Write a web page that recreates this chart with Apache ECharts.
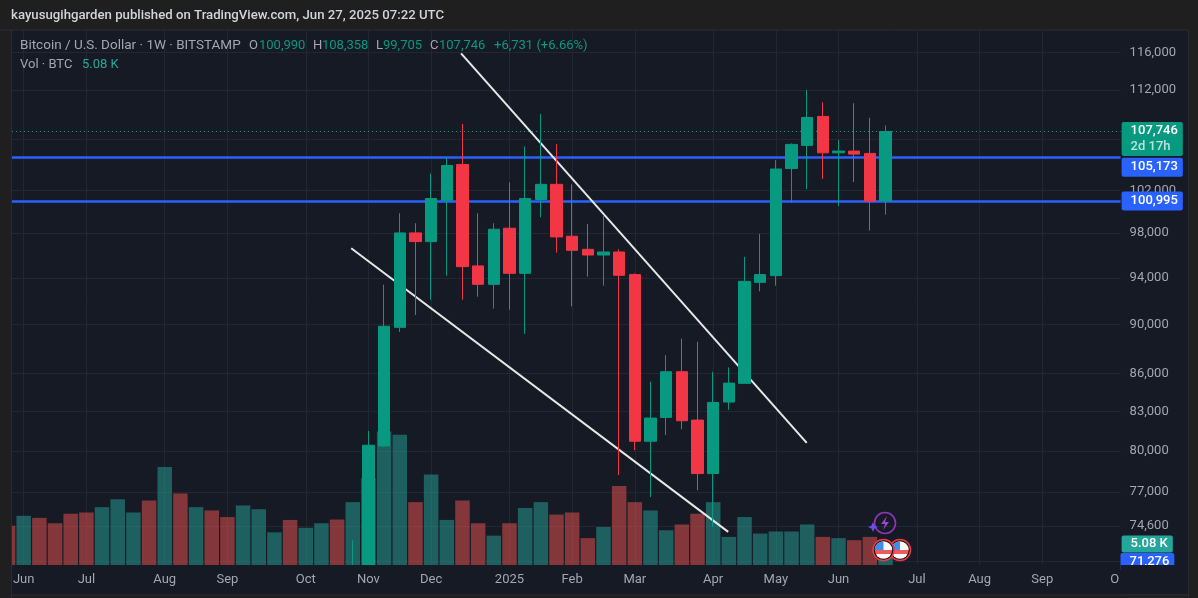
<!DOCTYPE html>
<html>
<head>
    <meta charset="utf-8">
    <script src="https://cdn.jsdelivr.net/npm/echarts@6/dist/echarts.min.js"></script>
    <style>
        html, body { margin: 0; padding: 0; background: #1f1f1f; }
        #main { width: 1198px; height: 598px; }
    </style>
</head>
<body>
<div id="main"></div>

<script type="text/javascript">
    // weekly candles, x is the week number counted from the first "Jun" tick
    var candleWeeks = [21, 22, 23, 24, 25, 26, 27, 28, 29, 30, 31, 32, 33, 34, 35, 36, 37, 38,
        39, 40, 41, 42, 43, 44, 45, 46, 47, 48, 49, 50, 51, 52, 53, 54, 55];
    var opens = [68200, 69300, 80370, 89770, 98030, 97236, 101060, 104486, 95060, 93440, 98458, 94405, 101130, 102570, 97726, 96540, 96030, 96300,
        94290, 80728, 82535, 86130, 82335, 78330, 83730, 85200, 93615, 94200, 104090, 106360, 109270, 105625, 105800, 105570, 100990];
    var closes = [68700, 80425, 89860, 98030, 97236, 101220, 104390, 94994, 93440, 98366, 94405, 101220, 102570, 97663, 96450, 96030, 96300, 94230,
        80728, 82490, 86130, 82284, 78330, 83700, 85220, 93700, 94290, 104045, 106460, 109170, 105625, 105800, 105500, 100970, 107746];
    var lows = [66800, 66800, 80270, 89380, 90806, 92110, 94200, 92110, 92370, 91344, 91260, 89215, 99472, 96244, 91546, 94115, 93320, 78224,
        80050, 76640, 81200, 81630, 77120, 74530, 83130, 85170, 92830, 93320, 100810, 102120, 103080, 100500, 102790, 98240, 99705];
    var highs = [73600, 81500, 93413, 99840, 98915, 103595, 105135, 108520, 99840, 98915, 102764, 106262, 109534, 106483, 102570, 98850, 99580, 96540,
        94400, 85328, 87473, 88835, 88560, 86130, 86480, 95860, 97940, 104910, 106560, 112000, 110730, 106910, 110620, 109130, 108358];

    // volume in thousands of BTC, first entry is the cut-off bar at the left edge (week -1)
    var volumeFirstWeek = -1;
    var volumes = [9.5, 11.9, 11.4, 10.1, 12.4, 12.7, 14.0, 15.9, 12.7, 15.6, 23.7, 17.3, 14.0, 13.2, 11.6, 14.4, 13.5, 7.9,
        10.9, 9.0, 10.1, 11.0, 15.2, 21.0, 32.3, 31.5, 15.2, 21.9, 10.9, 15.6, 10.1, 7.1, 10.1, 13.8, 15.2, 12.2, 12.7, 6.5,
        9.2, 19.1, 15.2, 13.2, 8.4, 9.8, 12.4, 15.2, 6.8, 11.6, 7.6, 8.1, 8.1, 9.8, 6.8, 6.5, 6.0, 6.8, 5.08];
    var volumeUp = [0, 1, 0, 0, 0, 0, 1, 1, 1, 0, 1, 0, 1, 0, 0, 1, 1, 1,
        0, 1, 1, 0, 1, 1, 1, 1, 0, 1, 1, 0, 0, 1, 0, 1, 1, 0, 0, 0,
        1, 0, 0, 1, 1, 0, 0, 1, 1, 1, 1, 1, 1, 1, 0, 1, 0, 0, 1];

    var monthWeeks = [0, 4, 9, 13, 18, 22, 26, 31, 35, 39, 44, 48, 52, 57, 61, 65, 70];
    var monthLabels = ['Jun', 'Jul', 'Aug', 'Sep', 'Oct', 'Nov', 'Dec', '2025', 'Feb', 'Mar', 'Apr', 'May', 'Jun', 'Jul', 'Aug', 'Sep', '{cut|O}'];
    var gridWeeks = monthWeeks.slice(0, -1);

    var priceTicks = [116000, 112000, 102000, 98000, 94000, 90000, 86000, 83000, 80000, 77000, 74600];
    var priceGrid = [116000, 112000, 107000, 102000, 98000, 94000, 90000, 86000, 83000, 80000, 77000, 74600, 72200];

    var lastClose = 107746;
    var supportLevels = [105173, 100995];
    var upperTrend = [[27.91, 115890], [49.97, 80600]];
    var lowerTrend = [[20.9, 96640], [44.96, 74183]];
    var volumeNow = 5.08;

    var UP = '#089981', DOWN = '#f23645', BLUE = '#2962ff';
    var FONT = 'Roboto';
    var AXIS_TEXT = '#a3a6af', GRID = '#232733', PANEL = '#161a25', FRAME = '#1f1f1f', EDGE = '#2a2c30';

    var candles = [];
    for (var i = 0; i < candleWeeks.length; i++) {
        candles.push([candleWeeks[i], opens[i], closes[i], lows[i], highs[i]]);
    }
    var volumeBars = [];
    for (var j = 0; j < volumes.length; j++) {
        volumeBars.push({
            value: [volumeFirstWeek + j, volumes[j]],
            itemStyle: { color: volumeUp[j] ? 'rgba(38,166,154,0.5)' : 'rgba(239,83,80,0.5)' }
        });
    }

    function legendText(x, y, text, fill, size) {
        return {
            type: 'text', x: x, y: y, z: 20, silent: true,
            style: { text: text, fill: fill, font: (size || 13) + 'px ' + FONT, verticalAlign: 'middle' }
        };
    }

    var legendDim = '#a3a6af';
    var graphics = [
        { type: 'rect', z: -1, silent: true, shape: { x: 11.5, y: 30, width: 1177, height: 565 }, style: { fill: PANEL, stroke: EDGE, lineWidth: 1 } },
        // candles and bars overrun the pane here, so the pane edges are painted over them
        { type: 'rect', z: 4, silent: true, shape: { x: -2, y: 30, width: 13.5, height: 570 }, style: { fill: FRAME, stroke: EDGE, lineWidth: 1 } },
        { type: 'rect', z: 4, silent: true, shape: { x: 12, y: 565, width: 1108.6, height: 30 }, style: { fill: PANEL } },
        { type: 'rect', z: 4, silent: true, shape: { x: 11.5, y: 595, width: 1177, height: 5 }, style: { fill: FRAME, stroke: EDGE, lineWidth: 1 } },
        {
            type: 'text', x: 11, y: 16, z: 20, silent: true,
            style: { text: 'kayusugihgarden published on TradingView.com, Jun 27, 2025 07:22 UTC', fill: '#d1d4dc', font: '500 13.2px ' + FONT, verticalAlign: 'middle' }
        },
        legendText(20, 46, 'Bitcoin / U.S. Dollar \u00b7 1W \u00b7 BITSTAMP', legendDim, 13.5),
        legendText(249, 46, 'O', legendDim), legendText(259, 46, '100,990', UP),
        legendText(313, 46, 'H', legendDim), legendText(322, 46, '108,358', UP),
        legendText(376, 46, 'L', legendDim), legendText(383, 46, '99,705', UP),
        legendText(430, 46, 'C', legendDim), legendText(439, 46, '107,746', UP),
        legendText(494, 46, '+6,731 (+6.66%)', UP),
        legendText(20, 65, 'Vol \u00b7 BTC', legendDim),
        legendText(82, 65, '5.08 K', '#26a69a'),
        // tag of the scale's lower bound, its lower half falls off the pane
        {
            type: 'text', x: 1120.5, y: 553, z: 30, silent: true,
            style: { text: '71,276', fill: '#fff', font: '500 13px ' + FONT, backgroundColor: BLUE, padding: [2, 5, 3, 9], borderRadius: 2 }
        },
        { type: 'rect', z: 31, silent: true, shape: { x: 1120.5, y: 565, width: 66, height: 28 }, style: { fill: PANEL } }
    ];

    // event badges at the end of the candles
    function flag(cx, cy) {
        return [
            { type: 'circle', z: 40, silent: true, shape: { cx: cx, cy: cy, r: 10.5 }, style: { fill: '#131313', stroke: DOWN, lineWidth: 1.5 } },
            {
                type: 'circle', z: 40, silent: true, shape: { cx: cx, cy: cy, r: 8.7 },
                style: {
                    fill: new echarts.graphic.LinearGradient(0, 0, 0, 1, [
                        { offset: 0, color: '#f7f7f7' }, { offset: 0.5, color: '#f7f7f7' },
                        { offset: 0.5, color: '#ee5a5a' }, { offset: 0.72, color: '#ee5a5a' },
                        { offset: 0.72, color: '#f7f7f7' }, { offset: 1, color: '#f7f7f7' }
                    ])
                }
            },
            { type: 'sector', z: 40, silent: true, shape: { cx: cx, cy: cy, r: 8.7, startAngle: Math.PI, endAngle: Math.PI * 1.5 }, style: { fill: '#3f8fe8' } }
        ];
    }
    graphics = graphics.concat(flag(900, 550), flag(883.5, 550));
    graphics.push(
        { type: 'circle', z: 40, silent: true, shape: { cx: 885, cy: 523, r: 10.5 }, style: { fill: 'none', stroke: '#8e35b5', lineWidth: 1.6 } },
        { type: 'polygon', z: 40, silent: true, shape: { points: [[887, 516], [881, 524], [885, 524], [883, 530], [889, 522], [885, 522]] }, style: { fill: '#a044d0' } },
        { type: 'polygon', z: 41, silent: true, shape: { points: [[873, 522], [874.5, 525.5], [878, 527], [874.5, 528.5], [873, 532], [871.5, 528.5], [868, 527], [871.5, 525.5]] }, style: { fill: '#6a4cf0' } }
    );

    function tagLabel(bg, offsetY) {
        return {
            show: true, position: 'end', distance: 1,
            color: '#fff', fontFamily: FONT, fontSize: 13, fontWeight: 500,
            backgroundColor: bg, borderRadius: 2,
            padding: [3, 5, 3, 9], offset: [0, offsetY]
        };
    }

    var chart = echarts.init(document.getElementById('main'));
    chart.setOption({
        animation: false,
        backgroundColor: FRAME,
        graphic: graphics,
        grid: { left: 12, top: 30, right: 1198 - 1120.6, bottom: 33 },
        xAxis: [
            {
                // grid lines, under the marks
                type: 'value', min: -0.747, max: 70,
                axisLine: { show: false },
                axisTick: { show: false, customValues: gridWeeks },
                axisLabel: { show: false },
                splitLine: { show: true, lineStyle: { color: GRID, width: 1 } }
            },
            {
                // month labels, above the pane edge
                type: 'value', min: -0.747, max: 70, position: 'bottom', z: 5,
                axisLine: { show: false },
                axisTick: { show: false },
                splitLine: { show: false },
                axisLabel: {
                    customValues: monthWeeks, color: AXIS_TEXT, fontFamily: FONT, fontSize: 13, margin: 8,
                    formatter: function (v) { return monthLabels[monthWeeks.indexOf(v)]; },
                    rich: { cut: { color: AXIS_TEXT, fontFamily: FONT, fontSize: 13, padding: [0, 12, 0, 0] } }
                }
            }
        ],
        yAxis: [
            {
                type: 'log', position: 'right', min: 71930, max: 118440,
                axisLine: { show: false },
                axisTick: { show: false, customValues: priceGrid },
                splitLine: { show: true, lineStyle: { color: GRID, width: 1 } },
                axisLabel: {
                    customValues: priceTicks, color: AXIS_TEXT, fontFamily: FONT, fontSize: 13, margin: 9,
                    formatter: function (v) { return Math.round(v).toLocaleString('en-US'); }
                }
            },
            { type: 'value', min: 0, max: 129.4, show: false }
        ],
        series: [
            {
                type: 'bar', name: 'Vol', xAxisIndex: 0, yAxisIndex: 1, z: 1, barWidth: 14.5,
                data: volumeBars,
                markLine: {
                    silent: true, symbol: 'none', z: 25,
                    lineStyle: { color: 'rgba(0,0,0,0)', width: 0 },
                    label: Object.assign(tagLabel('#26a69a', 0), { padding: [2, 5, 2, 9] }),
                    data: [{ yAxis: volumeNow, label: { formatter: '5.08 K' } }]
                }
            },
            {
                type: 'candlestick', name: 'BTCUSD', xAxisIndex: 0, yAxisIndex: 0, z: 3, barWidth: 12,
                encode: { x: 0, y: [1, 2, 3, 4] },
                itemStyle: { color: UP, color0: DOWN, borderColor: UP, borderColor0: DOWN, borderWidth: 1 },
                data: candles,
                markLine: {
                    silent: true, symbol: 'none', z: 2, animation: false,
                    data: [
                        {
                            yAxis: lastClose,
                            lineStyle: { color: UP, type: [1, 3], width: 1 },
                            label: {
                                show: true, position: 'end', distance: 1, fontFamily: FONT, fontSize: 13, fontWeight: 500,
                                color: '#fff', backgroundColor: UP, borderRadius: 2, padding: [1, 5, 1, 9], lineHeight: 16, offset: [0, 7.6],
                                formatter: '107,746\n{sub|2d 17h}',
                                rich: { sub: { color: 'rgba(255,255,255,0.72)', fontFamily: FONT, fontSize: 13, lineHeight: 16 } }
                            }
                        },
                        {
                            yAxis: supportLevels[0],
                            lineStyle: { color: BLUE, type: 'solid', width: 2.5 },
                            label: Object.assign(tagLabel(BLUE, 9.7), { formatter: '105,173' })
                        },
                        {
                            yAxis: supportLevels[1],
                            lineStyle: { color: BLUE, type: 'solid', width: 2.5 },
                            label: Object.assign(tagLabel(BLUE, 0), { formatter: '100,995' })
                        },
                        [
                            { coord: upperTrend[0], lineStyle: { color: '#e8e8e8', type: 'solid', width: 2 }, label: { show: false } },
                            { coord: upperTrend[1] }
                        ],
                        [
                            { coord: lowerTrend[0], lineStyle: { color: '#e8e8e8', type: 'solid', width: 2 }, label: { show: false } },
                            { coord: lowerTrend[1] }
                        ]
                    ]
                }
            }
        ]
    });
</script>
</body>
</html>
